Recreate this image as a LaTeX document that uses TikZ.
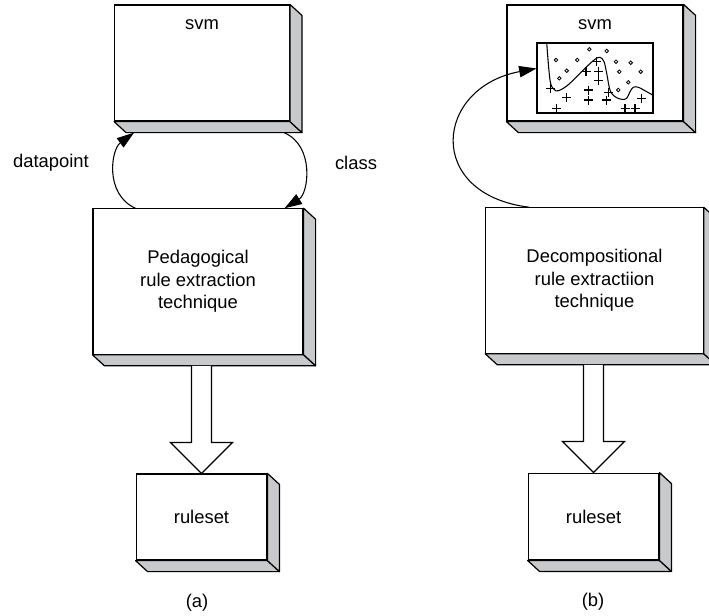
\documentclass[tikz,border=0pt]{standalone}
\usepackage{fontspec}
\setmainfont{Liberation Sans}
\usetikzlibrary{arrows.meta,calc}
\definecolor{sidegray}{RGB}{200,201,203}

\begin{document}
\begin{tikzpicture}[
  x=0.75pt, y=-0.75pt,
  box/.style={draw, fill=white, line width=0.9pt, inner sep=0pt, align=center, font=\fontsize{13.8}{16.9}\selectfont},
  side/.style={draw, fill=sidegray, line width=0.9pt, line join=round},
  arrow/.style={-{Triangle[length=13pt, width=8.5pt]}, line width=0.8pt},
  hollow/.style={draw, fill=white, line width=0.9pt},
  note/.style={font=\fontsize{13.8}{16.9}\selectfont},
  dot/.style={line width=0.6pt},
  cross/.style={line width=0.8pt},
]
\useasboundingbox (0,0) rectangle (709,615);

% (a) pedagogical
\node[box, minimum width=131pt, minimum height=87pt, label={[note, anchor=north, yshift=-8pt]north:svm}] (svmA) at (202,63) {};
\node[box, minimum width=157.5pt, minimum height=109pt] (pedA) at (198,281.5) {Pedagogical\\rule extraction\\technique};
\node[box, minimum width=98pt, minimum height=64.5pt] (ruleA) at (201.5,517) {ruleset};

% (b) decompositional
\node[box, minimum width=132pt, minimum height=87pt, label={[note, anchor=north, yshift=-8pt]north:svm}] (svmB) at (595,63) {};
\node[box, minimum width=163pt, minimum height=109pt] (decB) at (594.5,280.5) {Decompositional\\rule extractiion\\technique};
\node[box, minimum width=98pt, minimum height=65pt] (ruleB) at (593.5,516.5) {ruleset};

\foreach \n in {svmA,pedA,ruleA,svmB,decB,ruleB} {
  \draw[side] (\n.south west) -- ++(12,11) -- ($(\n.south east)+(12,11)$) -- (\n.south east) -- cycle;
  \draw[side] (\n.north east) -- ++(12,11) -- ($(\n.south east)+(12,11)$) -- (\n.south east) -- cycle;
}

% svm decision boundary
\node[draw, line width=0.8pt, minimum width=87pt, minimum height=52.5pt, inner sep=0pt] (plotB) at (595,78) {};
\foreach \x/\y in {589.3/49.3, 606.7/51, 556/60, 577.3/60, 616/61.7, 630.7/62.7, 566.7/70.7, 619.3/71.7, 640.7/71.7, 559.3/78.3, 628.3/82.3, 618.3/90}
  \draw[dot] (\x,\y) circle (1.8);
\foreach \x/\y in {596.7/61.7, 586/71.7, 598.3/71.7, 598.3/80.7, 550.7/88.3, 588.3/90, 608.3/92.7, 566.7/97.3, 588.3/100, 606.7/100, 641.7/98.3, 556.7/108.3, 625/108.3, 635/108.3}
  \draw[cross] (\x,\y) +(-4.5,0) -- +(4.5,0) +(0,-4.5) -- +(0,4.5);
\draw[line width=0.8pt] plot[smooth, tension=0.6] coordinates {(546.7,42.7) (550,80) (554,89.3) (558.3,90.7) (566.7,86) (576.7,76.7) (586.7,66.7) (595,59.3) (600,57.3) (604,61.7) (606.7,73.3) (610,90) (615,96.7) (621.7,99.3) (626.7,98.3) (630,91.7) (633.3,87.3) (638.3,87.3) (646.7,91.7) (652.7,95)};

% connectors
\draw[arrow] ($(pedA.north west)+(43,0)$) .. controls +(-31,-14) and +(-23,17) .. ($(svmA.south west)+(20,11)$);
\draw[arrow] ($(svmA.south east)+(-6,11)$) .. controls +(31,13) and +(24,-15) .. ($(pedA.north east)+(-19,0)$);
\draw[arrow] ($(decB.north west)+(44,0)$) .. controls +(-105,-13) and +(-102,19) .. ($(plotB.north west)+(0,26)$);

\draw[hollow] ($(ruleA.north |- pedA.south)+(-10,11)$) -- ($(ruleA.north)+(-10,-31)$) -- ++(-21,0) -- (ruleA.north) -- ($(ruleA.north)+(31,-31)$) -- ++(-21,0) -- ($(ruleA.north |- pedA.south)+(10,11)$);
\draw[hollow] ($(ruleB.north |- decB.south)+(-10,11)$) -- ($(ruleB.north)+(-10,-31)$) -- ++(-21,0) -- (ruleB.north) -- ($(ruleB.north)+(31,-31)$) -- ++(-21,0) -- ($(ruleB.north |- decB.south)+(10,11)$);

\node[note] (dpA) at (51,163) {datapoint};
\node[note] (clA) at (356,163) {class};
\node[note] (capA) at (197,603) {(a)};
\node[note] (capB) at (593,602) {(b)};

\end{tikzpicture}
\end{document}
